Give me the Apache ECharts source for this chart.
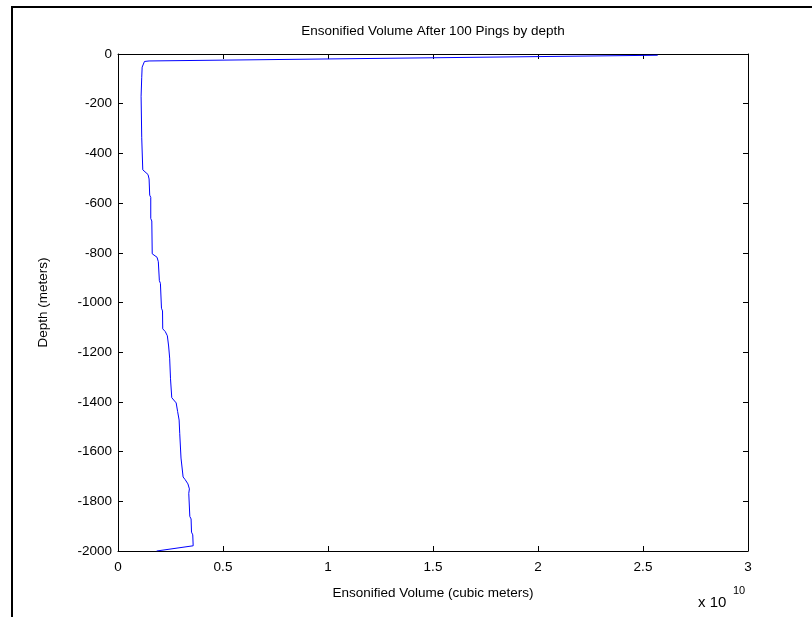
<!DOCTYPE html>
<html><head><meta charset="utf-8">
<script src="https://cdn.jsdelivr.net/npm/echarts@6/dist/echarts.min.js"></script>
<style>html,body{margin:0;padding:0;background:#fff}#c{width:812px;height:617px}</style>
</head><body><div id="c"></div>
<script>
// Ensonified volume in units of 1e10 cubic meters
var volume = [2.57, 0.148, 0.126, 0.120, 0.115, 0.113, 0.110, 0.110, 0.113, 0.113, 0.118, 0.118, 0.126, 0.143, 0.148, 0.151, 0.156, 0.156, 0.161, 0.163, 0.172, 0.186, 0.192, 0.197, 0.202, 0.207, 0.212, 0.213, 0.225, 0.235, 0.241, 0.246, 0.250, 0.255, 0.256, 0.261, 0.277, 0.284, 0.291, 0.294, 0.299, 0.300, 0.307, 0.310, 0.320, 0.333, 0.340, 0.337, 0.342, 0.348, 0.350, 0.356, 0.358, 0.365, 0.184];
var depth = [-5, -28, -30, -36, -53, -94, -101, -170, -177, -337, -344, -466, -473, -485, -503, -568, -577, -662, -672, -804, -811, -818, -836, -912, -923, -1023, -1034, -1106, -1117, -1134, -1175, -1224, -1307, -1314, -1383, -1390, -1404, -1439, -1473, -1528, -1536, -1626, -1633, -1702, -1713, -1730, -1750, -1768, -1861, -1871, -1924, -1935, -1979, -1986, -2000];
var xTicks = [0, 0.5, 1, 1.5, 2, 2.5, 3];
var yTicks = [0, -200, -400, -600, -800, -1000, -1200, -1400, -1600, -1800, -2000];

var pts = volume.map(function (v, i) { return [v, depth[i]]; });
var F = 'Liberation Sans, Arial, sans-serif';
var FS = 13.5;
var axisCommon = {
  axisLine: { show: true, onZero: false, lineStyle: { color: '#000', width: 1 } },
  axisTick: { show: true, inside: true, length: 5, lineStyle: { color: '#000' } },
  splitLine: { show: false }
};
var chart = echarts.init(document.getElementById('c'));
chart.setOption({
  animation: false,
  backgroundColor: '#fff',
  grid: { left: 118, top: 54, right: 64, bottom: 66, show: false },
  xAxis: [
    Object.assign({ type: 'value', position: 'bottom', min: xTicks[0], max: xTicks[xTicks.length - 1], interval: 0.5,
      name: 'Ensonified Volume (cubic meters)', nameLocation: 'middle', nameGap: 35,
      nameTextStyle: { fontFamily: F, fontSize: FS, color: '#000' },
      axisLabel: { fontFamily: F, fontSize: FS, color: '#000', margin: 9, formatter: function (v) { return String(v); } } }, axisCommon),
    Object.assign({ type: 'value', position: 'top', min: 0, max: 3, interval: 0.5,
      axisLabel: { show: false } }, axisCommon)
  ],
  yAxis: [
    Object.assign({ type: 'value', position: 'left', min: yTicks[yTicks.length - 1], max: yTicks[0], interval: 200,
      name: 'Depth (meters)', nameLocation: 'middle', nameGap: 68,
      nameTextStyle: { fontFamily: F, fontSize: FS, color: '#000' },
      axisLabel: { fontFamily: F, fontSize: FS, color: '#000', margin: 6, formatter: function (v) { return String(v); } } }, axisCommon),
    Object.assign({ type: 'value', position: 'right', min: -2000, max: 0, interval: 200,
      axisLabel: { show: false } }, axisCommon)
  ],
  series: [{
    type: 'line', data: pts, showSymbol: false, symbol: 'none',
    lineStyle: { color: '#0000ff', width: 1 }, xAxisIndex: 0, yAxisIndex: 0
  }],
  graphic: [
    { type: 'polyline', shape: { points: [[12, 617], [12, 7], [812, 7]] }, style: { stroke: '#000', lineWidth: 2, fill: null } },
    { type: 'text', x: 433, y: 31, style: { text: 'Ensonified Volume After 100 Pings by depth', font: FS + 'px ' + F, fill: '#000', textAlign: 'center', textVerticalAlign: 'middle' } },
    { type: 'text', x: 698, y: 603, style: { text: 'x 10', font: '15px ' + F, fill: '#000', textAlign: 'left', textVerticalAlign: 'middle' } },
    { type: 'text', x: 733, y: 591, style: { text: '10', font: '11px ' + F, fill: '#000', textAlign: 'left', textVerticalAlign: 'middle' } }
  ]
});
</script></body></html>
